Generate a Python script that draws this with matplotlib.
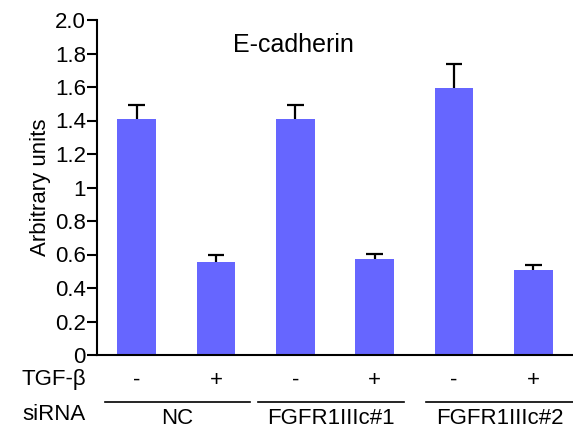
import matplotlib
matplotlib.use("Agg")
import matplotlib.pyplot as plt
import numpy as np

plt.rcParams['font.family'] = ['Liberation Sans', 'DejaVu Sans']

tgf = ["-", "+", "-", "+", "-", "+"]
sirna = ["NC", "FGFR1IIIc#1", "FGFR1IIIc#2"]
values = [1.41, 0.555, 1.41, 0.575, 1.595, 0.51]
errors = [0.08, 0.045, 0.08, 0.03, 0.14, 0.03]
yticks = [0, 0.2, 0.4, 0.6, 0.8, 1, 1.2, 1.4, 1.6, 1.8, 2.0]
ytick_labels = ["0", "0.2", "0.4", "0.6", "0.8", "1", "1.2", "1.4", "1.6", "1.8", "2.0"]

fig = plt.figure(figsize=(5.73, 4.28), dpi=100)
ax = fig.add_axes([97/573, 1 - 355/428, 476/573, 335/428])

x = np.arange(len(values))
vals = np.array(values)
tops = vals + np.array(errors)
ax.bar(x, vals, width=0.49, color="#6666FF", zorder=2)
# one-sided error bars (upper only)
ax.vlines(x, vals, tops, color="black", lw=1.6, zorder=1)
ax.hlines(tops, x - 0.105, x + 0.105, color="black", lw=1.6, zorder=1)

ax.set_xlim(-0.5, 5.5)
ax.set_ylim(0, 2.0)
ax.set_yticks(yticks)
ax.set_yticklabels(ytick_labels)
ax.set_xticks([])
ax.tick_params(axis="y", direction="out", length=7, width=1.5, labelsize=16, pad=1)
for s in ["top", "right"]:
    ax.spines[s].set_visible(False)
ax.spines["left"].set_linewidth(1.5)
ax.spines["bottom"].set_linewidth(1.5)
ax.set_ylabel("Arbitrary units", fontsize=16, labelpad=3)

ax.text(1.98, 1.85, "E-cadherin", fontsize=18, ha="center", va="center")

# rows under the axis
tr = ax.get_xaxis_transform()
for xi, lab in zip(x, tgf):
    ax.text(xi, -0.075, lab, transform=tr, ha="center", va="center", fontsize=16)
spans = [(-0.4, 1.43), (1.53, 3.37), (3.65, 5.5)]
for (a, b), lab in zip(spans, sirna):
    ax.plot([a, b], [-0.14, -0.14], transform=tr, color="black", lw=1.2, clip_on=False)
    ax.text((a + b) / 2, -0.19, lab, transform=tr, ha="center", va="center", fontsize=16)
fig.text(86/573, 1 - 380/428, "TGF-\u03b2", ha="right", va="center", fontsize=16)
fig.text(86/573, 1 - 415/428, "siRNA", ha="right", va="center", fontsize=16)

fig.savefig("out.png", dpi=100)
